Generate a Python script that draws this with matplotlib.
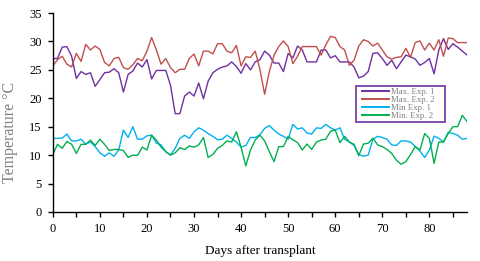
import matplotlib
matplotlib.use('Agg')
import matplotlib.pyplot as plt
from matplotlib.patches import Rectangle
import numpy as np

plt.rcParams['font.family'] = ['Liberation Serif', 'DejaVu Serif']

# daily temperatures, day 0 .. 88
max_exp1 = [27.0, 27.0, 29.0, 29.1, 27.4, 23.5, 24.7, 24.2, 24.5, 22.1,
            23.3, 24.5, 24.6, 25.2, 24.5, 21.1, 24.2, 24.8, 26.2, 25.5,
            26.8, 23.4, 24.9, 24.9, 24.9, 22.3, 17.3, 17.3, 20.4, 21.1,
            20.4, 22.7, 19.9, 23.0, 24.5, 25.1, 25.5, 25.7, 26.4, 25.6,
            24.4, 26.1, 25.0, 26.4, 26.8, 28.3, 27.6, 26.2, 26.2, 24.7,
            27.9, 27.1, 29.2, 28.5, 26.4, 26.4, 26.4, 28.5, 28.5, 27.1,
            27.5, 26.4, 26.4, 26.4, 25.5, 23.6, 23.9, 24.7, 27.9, 28.0,
            27.0, 25.8, 26.7, 25.2, 26.4, 27.6, 27.3, 26.9, 25.8, 26.3,
            27.0, 24.3, 28.5, 30.5, 28.6, 29.6, 29.0, 28.3, 27.6]
max_exp2 = [25.7, 26.8, 27.4, 26.0, 25.5, 27.9, 26.5, 29.5, 28.5, 29.2,
            28.6, 26.3, 25.7, 27.0, 27.2, 25.4, 25.1, 25.9, 27.0, 26.6,
            28.3, 30.7, 28.5, 26.0, 27.0, 25.4, 24.5, 25.1, 25.1, 27.0,
            27.8, 25.7, 28.3, 28.3, 27.8, 29.6, 29.6, 28.3, 28.0, 29.3,
            25.7, 27.3, 27.2, 28.3, 25.1, 20.7, 24.7, 27.6, 29.1, 30.1,
            29.1, 26.1, 27.4, 29.1, 29.1, 29.1, 29.1, 27.6, 29.4, 30.9,
            30.7, 29.1, 28.5, 25.8, 26.7, 29.2, 30.3, 30.0, 29.2, 29.7,
            28.5, 27.3, 26.9, 27.2, 27.3, 28.8, 27.2, 29.8, 30.1, 28.5,
            29.7, 28.5, 30.3, 27.4, 30.6, 30.5, 29.8, 29.8, 29.8]
min_exp1 = [12.95, 12.95, 13.0, 13.7, 12.5, 12.5, 12.8, 11.95, 12.3, 11.5,
            10.4, 9.8, 10.4, 9.8, 10.9, 14.4, 13.1, 15.0, 12.8, 12.8,
            13.4, 13.5, 12.1, 11.8, 10.6, 10.0, 11.2, 12.95, 13.5, 12.95,
            14.1, 14.8, 14.4, 13.8, 13.3, 12.7, 12.8, 13.5, 12.95, 12.3,
            11.4, 11.7, 13.1, 13.1, 13.6, 14.7, 15.2, 14.4, 13.7, 13.3,
            12.8, 15.4, 14.6, 14.8, 13.9, 13.7, 14.8, 14.7, 15.4, 14.8,
            14.4, 14.8, 12.8, 12.3, 11.7, 10.1, 9.8, 10.0, 12.8, 13.3,
            13.1, 12.8, 11.8, 11.7, 12.5, 12.5, 12.3, 11.5, 10.7, 9.6,
            10.9, 13.35, 12.95, 12.3, 14.0, 13.8, 13.5, 12.8, 12.95]
min_exp2 = [10.1, 11.9, 11.2, 12.4, 11.9, 10.3, 11.9, 11.9, 12.65, 11.7,
            12.8, 11.9, 10.8, 11.0, 11.0, 10.8, 9.6, 10.0, 9.95, 11.4,
            10.9, 13.5, 12.65, 11.4, 10.6, 10.0, 10.4, 11.3, 11.0, 11.6,
            11.4, 11.8, 13.1, 9.6, 10.1, 11.2, 11.7, 12.5, 12.3, 14.1,
            11.4, 8.1, 10.9, 12.65, 13.5, 12.5, 10.6, 8.85, 11.5, 11.5,
            13.3, 12.7, 12.2, 10.9, 11.95, 11.0, 12.3, 12.65, 12.8, 14.2,
            14.4, 12.2, 13.3, 12.3, 11.9, 9.9, 11.95, 12.1, 12.95, 11.8,
            11.5, 11.0, 10.3, 9.1, 8.4, 8.85, 10.1, 11.5, 10.9, 13.8,
            12.95, 8.55, 12.3, 12.3, 13.8, 15.0, 15.0, 17.0, 15.9]
labels = ['Max. Exp. 1', 'Max. Exp. 2', 'Min Exp. 1', 'Min. Exp. 2']
colors = ['#7030A0', '#C0504D', '#00B0F0', '#00B050']

days = np.arange(len(max_exp1))

fig = plt.figure(figsize=(4.8, 2.61), dpi=100)
ax = fig.add_axes([0.110, 0.188, 0.863, 0.762])

series = [max_exp1, max_exp2, min_exp1, min_exp2]
for vals, lab, col in zip(series, labels, colors):
    ax.plot(days, vals, color=col, lw=1.0, label=lab)

ax.set_xlim(0, 88)
ax.set_ylim(0, 35)
ax.set_xticks(range(0, 90, 10))
ax.set_xticks(range(5, 90, 10), minor=True)
ax.set_yticks(range(0, 36, 5))
ax.tick_params(axis='both', which='both', direction='out', length=3.5,
               width=1.0, pad=4.5, labelsize=9, colors='black')

for side in ['top', 'right']:
    ax.spines[side].set_visible(False)
for side in ['left', 'bottom']:
    ax.spines[side].set_linewidth(1.0)

ax.set_xlabel('Days after transplant', fontsize=9.5, color='black')
ax.set_ylabel('Temperature \u00b0C', fontsize=11.5, color='#808080')
ax.xaxis.set_label_coords(0.5, -0.165)
ax.yaxis.set_label_coords(-0.083, 0.40)

leg = ax.legend(loc='center', bbox_to_anchor=(0.835, 0.543), frameon=False,
                fontsize=6.3, handlelength=3.0, handletextpad=0.3,
                labelspacing=0.0, borderpad=0)
for t in leg.get_texts():
    t.set_color('#808080')
for h in leg.get_lines():
    h.set_linewidth(1.4)

ax.add_patch(Rectangle((0.731, 0.451), 0.217, 0.184, transform=ax.transAxes,
                       fill=False, edgecolor='#7030A0', lw=1.2, zorder=5,
                       clip_on=False))

fig.savefig('out.png', dpi=100)
